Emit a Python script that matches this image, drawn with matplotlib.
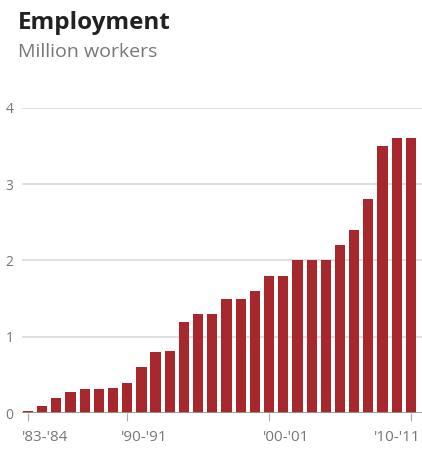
import matplotlib.pyplot as plt
import matplotlib.transforms as mtransforms
import numpy as np

# fiscal years '83-'84 .. '10-'11
years = ["'%02d-'%02d" % (y % 100, (y + 1) % 100) for y in range(1983, 2011)]
workers = [0.03, 0.1, 0.2, 0.28, 0.32, 0.32, 0.33, 0.4, 0.6, 0.8,
           0.82, 1.2, 1.3, 1.3, 1.5, 1.5, 1.6, 1.8, 1.8, 2.0,
           2.0, 2.0, 2.2, 2.4, 2.8, 3.5, 3.6, 3.6]
tick_idx = [0, 7, 17, 27]
yticks = [0, 1, 2, 3, 4]

plt.rcParams['font.family'] = ['Open Sans', 'DejaVu Sans']

fig = plt.figure(figsize=(4.22, 4.53), dpi=100)
ax = fig.add_axes([0.052, 0.088, 0.948, 0.674])

x = np.arange(len(workers))
ax.bar(x, workers, width=0.72, color='#a6282c', zorder=3)

ax.set_xlim(-0.42, 27.78)
ax.set_ylim(0, 4)
ax.set_yticks(yticks)
ax.set_yticklabels([str(v) for v in yticks], color='#777777', fontsize=10)
ax.yaxis.grid(True, color='#d9d9d9', linewidth=1.2, zorder=0)
ax.tick_params(axis='y', length=0, pad=6)
ax.axhline(0, color='#999999', linewidth=1.2, zorder=4)

ax.set_xticks(tick_idx)
ax.set_xticklabels([years[i] for i in tick_idx], color='#777777', fontsize=11)
ax.tick_params(axis='x', length=6, color='#aaaaaa', pad=6)

# labels sit just right of their tick, the last one flush with the edge
labels = ax.get_xticklabels()
for i, lab in enumerate(labels):
    if i == len(labels) - 1:
        lab.set_ha('right')
        dx = 0.095
    else:
        lab.set_ha('left')
        dx = -0.06
    lab.set_transform(lab.get_transform() +
                      mtransforms.ScaledTranslation(dx, 0, fig.dpi_scale_trans))

for s in ax.spines.values():
    s.set_visible(False)

fig.text(0.043, 0.95, 'Employment', fontsize=17.5, fontweight='bold',
         color='#222222', va='center')
fig.text(0.043, 0.885, 'Million workers', fontsize=14, color='#777777',
         va='center')

fig.savefig('out.png', dpi=100)
